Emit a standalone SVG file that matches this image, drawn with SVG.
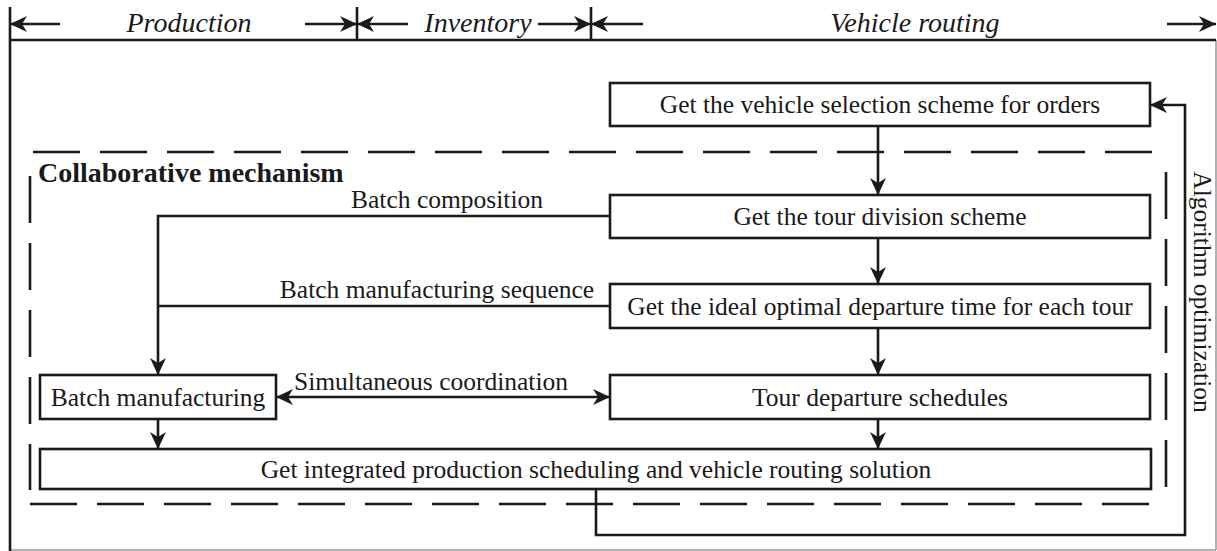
<svg xmlns="http://www.w3.org/2000/svg" width="1217" height="551" viewBox="0 0 1217 551">
<defs>
<marker id="ah" markerUnits="userSpaceOnUse" markerWidth="20" markerHeight="20" viewBox="-18 -9 20 18" refX="0" refY="0" orient="auto-start-reverse">
<path d="M0,0 L-17,-8 L-12,0 L-17,8 Z" fill="#1a1a1a"/>
</marker>
</defs>
<style>
.t{font-family:"Liberation Serif","Times New Roman",serif;font-size:25.5px;fill:#1a1a1a}
.h{font-family:"Liberation Serif","Times New Roman",serif;font-size:28px;font-style:italic;fill:#1a1a1a}
.b{fill:#fff;stroke:#1a1a1a;stroke-width:2.6}
.ln{fill:none;stroke:#1a1a1a;stroke-width:2.6}
.ar{fill:none;stroke:#1a1a1a;stroke-width:2.6;marker-end:url(#ah)}
.dash{fill:none;stroke:#1a1a1a;stroke-width:2.6;stroke-dasharray:47 20}
</style>
<rect width="1217" height="551" fill="#fff"/>
<g id="frame">
<line x1="1216" y1="40" x2="1216" y2="550" stroke="#999" stroke-width="1.5"/>
<line x1="10" y1="550" x2="1216" y2="550" stroke="#999" stroke-width="1.5"/>
<line class="ln" x1="10" y1="7" x2="10" y2="551"/>
<line class="ln" x1="10" y1="40" x2="1216" y2="40"/>
<line class="ln" x1="357" y1="7" x2="357" y2="40"/>
<line class="ln" x1="591" y1="7" x2="591" y2="40"/>
</g>
<g id="header">
<line class="ar" x1="60" y1="24" x2="10" y2="24"/>
<line class="ar" x1="305" y1="24" x2="357" y2="24"/>
<line class="ar" x1="408" y1="24" x2="357" y2="24"/>
<line class="ar" x1="538" y1="24" x2="591" y2="24"/>
<line class="ar" x1="643" y1="24" x2="591" y2="24"/>
<line class="ar" x1="1167" y1="24" x2="1216" y2="24"/>
<text class="h" x="189" y="32" text-anchor="middle">Production</text>
<text class="h" x="478" y="32" text-anchor="middle">Inventory</text>
<text class="h" x="915" y="32" text-anchor="middle">Vehicle routing</text>
</g>
<g id="collab">
<line class="dash" x1="33" y1="152" x2="1165" y2="152"/>
<line class="dash" x1="30" y1="504" x2="1161" y2="504"/>
<line class="dash" x1="30" y1="176" x2="30" y2="490"/>
<line class="dash" x1="1166" y1="172" x2="1166" y2="489"/>
<text x="38" y="182" font-family="'Liberation Serif','Times New Roman',serif" font-size="28" font-weight="bold" fill="#1a1a1a">Collaborative mechanism</text>
</g>
<g id="connectors">
<line class="ar" x1="878" y1="126" x2="878" y2="195"/>
<line class="ar" x1="878" y1="238" x2="878" y2="284"/>
<line class="ar" x1="878" y1="328" x2="878" y2="375"/>
<line class="ar" x1="878" y1="419" x2="878" y2="449"/>
<line class="ar" x1="158" y1="419" x2="158" y2="449"/>
<polyline class="ar" points="610,216 158,216 158,375"/>
<line class="ln" x1="610" y1="306" x2="158" y2="306"/>
<line class="ar" x1="276" y1="397" x2="610" y2="397" marker-start="url(#ah)"/>
<polyline class="ar" points="596,489 596,535 1185,535 1185,105 1150,105"/>
<text class="t" x="447" y="208" text-anchor="middle">Batch composition</text>
<text class="t" x="437" y="298" text-anchor="middle">Batch manufacturing sequence</text>
<text class="t" x="431" y="390" text-anchor="middle">Simultaneous coordination</text>
<text class="t" transform="translate(1194,292) rotate(90)" text-anchor="middle">Algorithm optimization</text>
</g>
<g id="n-vehicle">
<rect class="b" x="610" y="83" width="540" height="43"/>
<text class="t" x="880" y="113" text-anchor="middle">Get the vehicle selection scheme for orders</text>
</g>
<g id="n-tour">
<rect class="b" x="610" y="195" width="540" height="43"/>
<text class="t" x="880" y="225" text-anchor="middle">Get the tour division scheme</text>
</g>
<g id="n-ideal">
<rect class="b" x="610" y="284" width="540" height="44"/>
<text class="t" x="880" y="315" text-anchor="middle">Get the ideal optimal departure time for each tour</text>
</g>
<g id="n-departure">
<rect class="b" x="610" y="375" width="540" height="44"/>
<text class="t" x="880" y="406" text-anchor="middle">Tour departure schedules</text>
</g>
<g id="n-batch">
<rect class="b" x="40" y="375" width="236" height="44"/>
<text class="t" x="158" y="406" text-anchor="middle">Batch manufacturing</text>
</g>
<g id="n-integrated">
<rect class="b" x="40" y="449" width="1111" height="40"/>
<text class="t" x="596" y="478" text-anchor="middle">Get integrated production scheduling and vehicle routing solution</text>
</g>
</svg>
